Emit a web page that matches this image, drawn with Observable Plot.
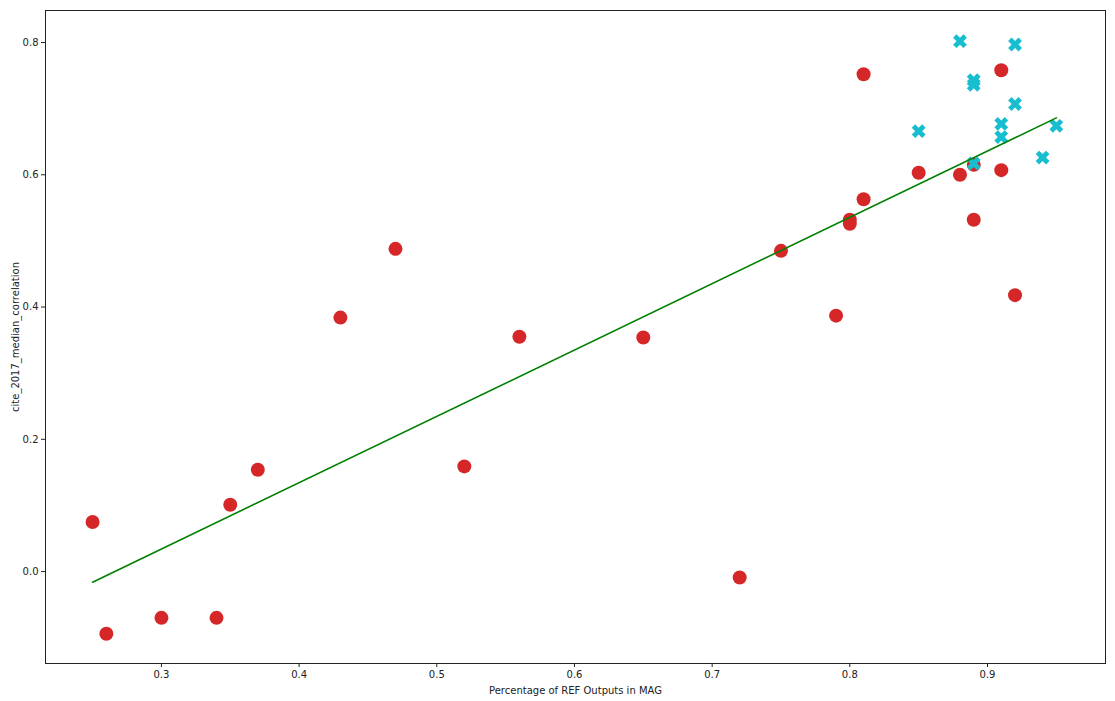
<!DOCTYPE html>
<html><head><meta charset="utf-8">
<script src="https://cdn.jsdelivr.net/npm/d3@7"></script>
<script src="https://cdn.jsdelivr.net/npm/@observablehq/plot@0.6"></script>
<style>body{margin:0;background:#fff;font-family:"DejaVu Sans",sans-serif}</style>
</head><body><div id="chart"></div>
<script>
// red group: percentage of REF outputs in MAG vs cite_2017_median_correlation
const redX = [0.25,0.26,0.30,0.34,0.35,0.37,0.43,0.47,0.52,0.56,0.65,0.72,0.75,0.79,0.80,0.80,0.81,0.81,0.85,0.88,0.89,0.89,0.91,0.91,0.92];
const redY = [0.075,-0.094,-0.070,-0.070,0.101,0.154,0.384,0.488,0.159,0.355,0.354,-0.009,0.485,0.387,0.532,0.526,0.563,0.752,0.603,0.600,0.532,0.615,0.758,0.607,0.418];
// cyan group
const cyanX = [0.88,0.92,0.89,0.89,0.92,0.85,0.91,0.91,0.95,0.94,0.89];
const cyanY = [0.802,0.797,0.743,0.736,0.707,0.666,0.677,0.657,0.674,0.626,0.617];
// fitted line
const fitX = [0.25,0.92,0.95];
const fitY = [-0.016,0.656,0.686];
const yTicks = [0.0,0.2,0.4,0.6,0.8];
const xTicks = [0.3,0.4,0.5,0.6,0.7,0.8,0.9];

const red = redX.map((x,i)=>({x,y:redY[i]}));
const cyan = cyanX.map((x,i)=>({x,y:cyanY[i]}));
const fit = fitX.map((x,i)=>({x,y:fitY[i]}));

const filledX = {
  draw(ctx, size){
    const h = Math.sqrt(size/Math.PI)*1.05, w = h/3;
    const pts = [[w,-h],[w,-w],[h,-w],[h,w],[w,w],[w,h],[-w,h],[-w,w],[-h,w],[-h,-w],[-w,-w],[-w,-h]];
    const c = Math.SQRT1_2;
    pts.forEach(([px,py],i)=>{
      const X=(px-py)*c, Y=(px+py)*c;
      i?ctx.lineTo(X,Y):ctx.moveTo(X,Y);
    });
    ctx.closePath();
  }
};

const chart = Plot.plot({
  width:1115, height:701,
  marginLeft:45, marginRight:10, marginTop:10, marginBottom:38,
  style:{fontFamily:"DejaVu Sans", fontSize:"10px", color:"#222", background:"#fff"},
  x:{domain:[0.2158,0.9857]},
  y:{domain:[-0.139,0.8484]},
  marks:[
    Plot.frame({stroke:"#222"}),
    Plot.axisX({ticks:xTicks, tickFormat:d3.format(".1f"), tickSize:4, tickPadding:3, label:"Percentage of REF Outputs in MAG", labelAnchor:"center", labelOffset:30, labelArrow:"none"}),
    Plot.axisY({ticks:yTicks, tickFormat:d3.format(".1f"), tickSize:4, tickPadding:3, label:"cite_2017_median_correlation", labelAnchor:"center", labelOffset:34, labelArrow:"none"}),
    Plot.dot(red,{x:"x",y:"y",r:7,fill:"#d62728",stroke:"none"}),
    Plot.dot(cyan,{x:"x",y:"y",r:7,symbol:filledX,fill:"#17becf",stroke:"none"}),
    Plot.line(fit,{x:"x",y:"y",stroke:"green",strokeWidth:1.6})
  ]
});
document.getElementById("chart").appendChild(chart);
</script></body></html>
